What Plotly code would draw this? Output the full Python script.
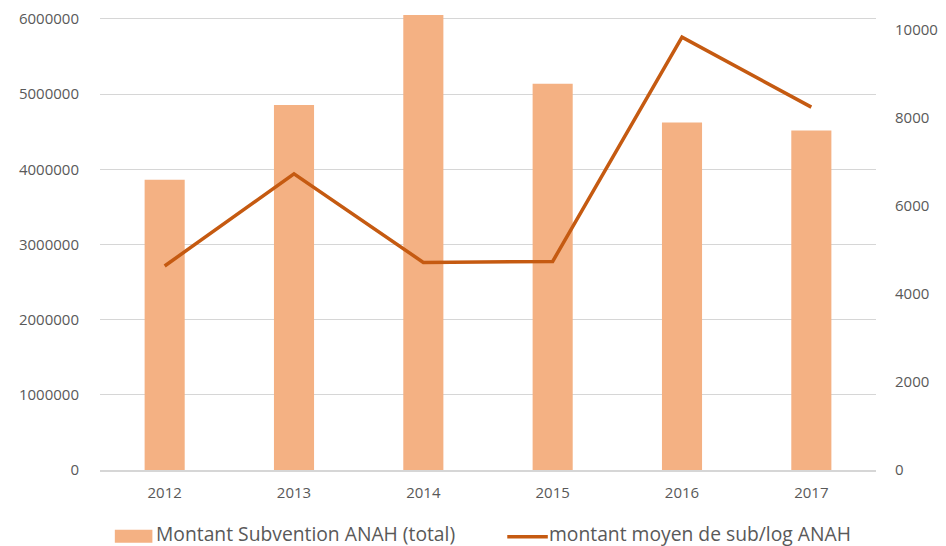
import plotly.graph_objects as go

# Data
years = ["2012", "2013", "2014", "2015", "2016", "2017"]
montant_total = [3862000, 4857000, 6054000, 5139000, 4622000, 4516000]
montant_moyen = [4636, 6731, 4717, 4740, 9834, 8245]
left_ticks = [0, 1000000, 2000000, 3000000, 4000000, 5000000, 6000000]
right_ticks = [0, 2000, 4000, 6000, 8000, 10000]
series_names = ["Montant Subvention ANAH (total)", "montant moyen de sub/log ANAH"]

BAR_COLOR = "#F4B183"
LINE_COLOR = "#C55A11"
TEXT_COLOR = "#595959"
GRID_COLOR = "#D6D6D6"

W, H = 946, 546
ML, MR, MT, MB = 100, 61, 8, 76
plot_w = W - ML - MR
plot_h = H - MT - MB


def px_x(x):
    return (x - ML) / plot_w


def px_y(y):
    return (H - MB - y) / plot_h


fig = go.Figure()
fig.add_trace(go.Bar(
    x=years, y=montant_total, name=series_names[0],
    marker=dict(color=BAR_COLOR, line=dict(width=0)),
    width=0.31, yaxis="y", showlegend=False,
))
fig.add_trace(go.Scatter(
    x=years, y=montant_moyen, name=series_names[1], mode="lines",
    line=dict(color=LINE_COLOR, width=3.5), yaxis="y2", showlegend=False,
))

font_ticks = dict(family="Open Sans", size=15, color=TEXT_COLOR)

fig.update_layout(
    width=W, height=H,
    margin=dict(l=ML, r=MR, t=MT, b=MB, pad=0),
    paper_bgcolor="white", plot_bgcolor="white",
    xaxis=dict(
        type="category", showgrid=False, showline=True, linecolor=GRID_COLOR, linewidth=1.5,
        ticks="outside", ticklen=8, tickcolor="rgba(0,0,0,0)", tickfont=font_ticks,
        range=[-0.5, 5.5],
    ),
    yaxis=dict(
        range=[0, 6000000 * plot_h / (H - MB - 17)],
        tickvals=left_ticks, ticktext=[str(v) for v in left_ticks],
        showgrid=True, gridcolor=GRID_COLOR, gridwidth=1.2, zeroline=False,
        ticks="outside", ticklen=17, tickcolor="rgba(0,0,0,0)", tickfont=font_ticks,
    ),
    yaxis2=dict(
        overlaying="y", side="right",
        range=[0, 10000 * plot_h / (H - MB - 28)],
        tickvals=right_ticks, ticktext=[str(v) for v in right_ticks],
        showgrid=False, zeroline=False,
        ticks="outside", ticklen=15, tickcolor="rgba(0,0,0,0)", tickfont=font_ticks,
    ),
    showlegend=False,
)

# Legend below the plot
legend_font = dict(family="Open Sans", size=19.3, color=TEXT_COLOR)
fig.add_shape(type="rect", xref="paper", yref="paper",
              x0=px_x(115), x1=px_x(153), y0=px_y(543), y1=px_y(530),
              fillcolor=BAR_COLOR, line=dict(width=0))
fig.add_annotation(xref="paper", yref="paper", x=px_x(155), y=px_y(534),
                   text=series_names[0], showarrow=False, xanchor="left", yanchor="middle",
                   font=legend_font)
fig.add_shape(type="line", xref="paper", yref="paper",
              x0=px_x(512), x1=px_x(553), y0=px_y(537), y1=px_y(537),
              line=dict(color=LINE_COLOR, width=3.5))
fig.add_annotation(xref="paper", yref="paper", x=px_x(552), y=px_y(534),
                   text=series_names[1], showarrow=False, xanchor="left", yanchor="middle",
                   font=legend_font)

fig.write_html("out.html")
